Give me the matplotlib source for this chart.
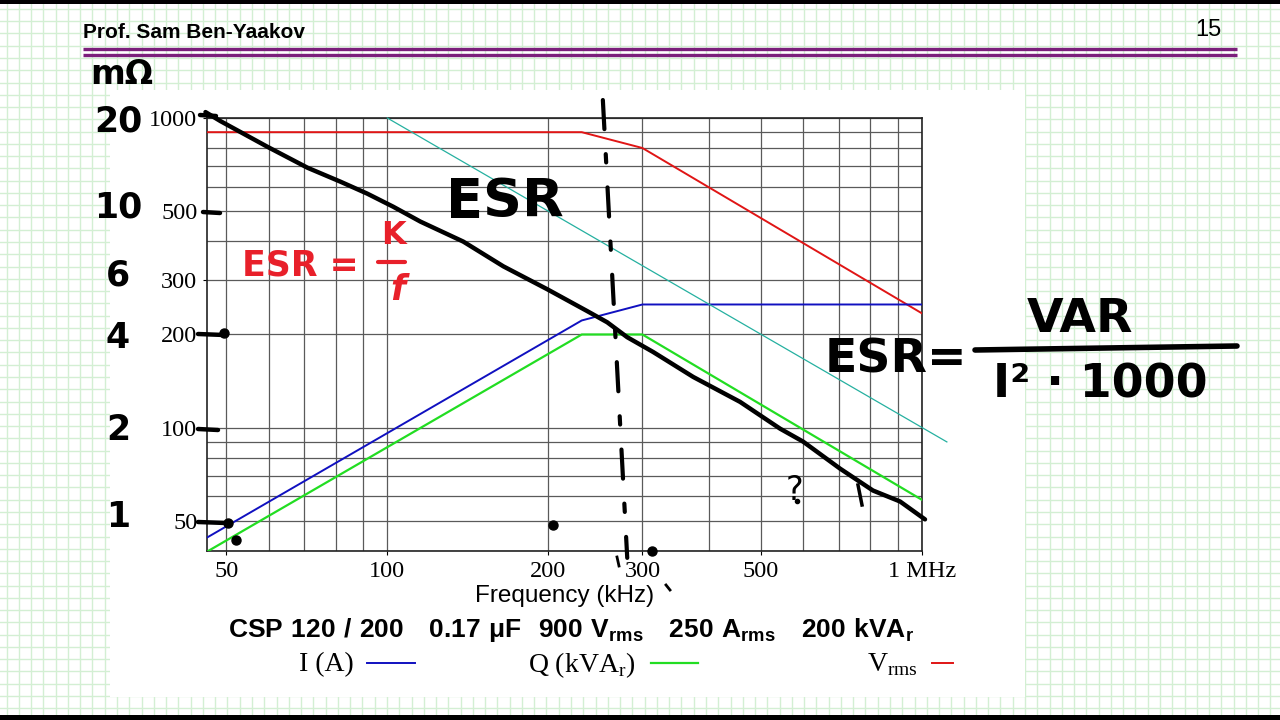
import matplotlib
matplotlib.use("Agg")
import matplotlib.pyplot as plt
from matplotlib.lines import Line2D
from matplotlib.patches import Rectangle
import numpy as np

# ---------------- data ----------------
freq_I = [46, 231, 300, 1000]
current_A = [44.2, 222, 250, 250]

freq_Q = [46, 231, 300, 1000]
q_kvar = [39.8, 200, 200, 58.5]

freq_V = [46, 231, 300, 1000]
v_rms = [900, 900, 800, 234]

freq_ref = [100, 1113]
ref_line = [1000, 90]

# hand-drawn ESR trace (kHz, value on chart scale)
esr_freq = [45.7, 48.7, 59.7, 70.9, 81.7, 91.7, 102.6, 115.3, 138.7, 164.8, 199.1,
            236.5, 257.8, 281, 314.2, 373.3, 456.8, 542.8, 599.3, 702.6, 809.7, 909.8, 1013]
esr_val = [1045, 978, 807, 691, 623, 570, 517, 463, 399, 332, 280,
           238, 219, 196, 175.6, 145.9, 121.2, 99.3, 90.2, 73.8, 62.7, 57.8, 50.6]

# hand-drawn dashed vertical marker
mark_freq = [253, 281]
mark_val = [1143, 38]

# hand dots
dot_freq = [50.4, 52.2, 49.6, 204, 313, 584]
dot_val = [49.1, 43.4, 202, 48.4, 39.9, 57.8]

x_ticks = [50, 100, 200, 300, 500, 1000]
x_tick_labels = ["50", "100", "200", "300", "500", "1 MHz"]
y_ticks = [50, 100, 200, 300, 500, 1000]
y_tick_labels = ["50", "100", "200", "300", "500", "1000"]

hand_scale = ["20", "10", "6", "4", "2", "1"]

# ---------------- figure ----------------
plt.rcParams['mathtext.fontset'] = 'custom'
plt.rcParams['mathtext.rm'] = 'Liberation Serif'
plt.rcParams['mathtext.bf'] = 'Liberation Sans:bold'
plt.rcParams['mathtext.sf'] = 'Liberation Sans'

W, H = 1280, 720
fig = plt.figure(figsize=(12.8, 7.2), dpi=100)
fig.patch.set_facecolor('white')

# background (graph paper slide)
bg = fig.add_axes([0, 0, 1, 1], zorder=0)
bg.set_xlim(0, W)
bg.set_ylim(H, 0)
bg.axis('off')
gc = '#d3efd3'
for gx in np.arange(6.6, W, 12.27):
    bg.axvline(gx, color=gc, lw=1.0)
for gy in np.arange(8.9, H, 12.27):
    bg.axhline(gy, color=gc, lw=1.0)
bg.add_patch(Rectangle((110, 90), 915, 607, facecolor='white', edgecolor='none', zorder=2))
bg.add_patch(Rectangle((0, 0), W, 4, facecolor='black', edgecolor='none', zorder=3))
bg.add_patch(Rectangle((0, 715), W, 5, facecolor='black', edgecolor='none', zorder=3))
bg.plot([83, 1237], [49, 49], color='#7b1f7b', lw=2.4, zorder=3, solid_capstyle='butt')
bg.plot([83, 1237], [54.5, 54.5], color='#7b1f7b', lw=2.4, zorder=3, solid_capstyle='butt')
bg.text(83, 32, "Prof. Sam Ben-Yaakov", fontsize=15, fontweight='bold',
        family='Liberation Sans', ha='left', va='center', zorder=3)
bg.text(1208, 30, "15", fontsize=17, family='Liberation Sans', ha='center',
        va='center', zorder=3)

# ---------------- main chart ----------------
ax = fig.add_axes([207 / W, 1 - 551 / H, (922 - 207) / W, (551 - 118) / H], zorder=2)
ax.set_facecolor('white')
ax.set_xscale('log')
ax.set_yscale('log')
ax.set_xlim(46, 1000)
ax.set_ylim(40, 1000)

minor = [m * 10 ** e for e in (1, 2) for m in range(2, 10)]
ax.xaxis.set_major_locator(matplotlib.ticker.FixedLocator(x_ticks))
ax.xaxis.set_minor_locator(matplotlib.ticker.FixedLocator(minor))
ax.yaxis.set_major_locator(matplotlib.ticker.FixedLocator(y_ticks))
ax.yaxis.set_minor_locator(matplotlib.ticker.FixedLocator(minor))
ax.xaxis.set_major_formatter(matplotlib.ticker.FixedFormatter(x_tick_labels))
ax.yaxis.set_major_formatter(matplotlib.ticker.FixedFormatter(y_tick_labels))
ax.xaxis.set_minor_formatter(matplotlib.ticker.NullFormatter())
ax.yaxis.set_minor_formatter(matplotlib.ticker.NullFormatter())
ax.grid(True, which='both', color='#5a5a5a', lw=0.9)
ax.tick_params(which='minor', length=0)
ax.tick_params(which='major', length=3, width=0.8, direction='out', pad=4,
               labelsize=17.5)
for lab in ax.get_xticklabels() + ax.get_yticklabels():
    lab.set_family('Liberation Serif')
for sp in ax.spines.values():
    sp.set_color('#222222')
    sp.set_linewidth(1.2)

ax.plot(freq_V, v_rms, color='#e01515', lw=1.4, zorder=3)
ax.plot(freq_I, current_A, color='#1010c0', lw=1.4, zorder=3)
ax.plot(freq_Q, q_kvar, color='#22dd22', lw=1.6, zorder=3)
ax.plot(freq_ref, ref_line, color='#25b0a0', lw=0.9, zorder=3, clip_on=False)

# hand-drawn overlays in data coords
ax.plot(esr_freq, esr_val, color='black', lw=3.2, zorder=5, clip_on=False,
        solid_capstyle='round', solid_joinstyle='round')
ax.plot(mark_freq, mark_val, color='black', lw=3.0, zorder=5, clip_on=False,
        linestyle=(0, (7, 6, 2, 6)), dash_capstyle='round')
ax.plot(dot_freq[:5], dot_val[:5], 'o', color='black', ms=6.5, zorder=6, clip_on=False)
ax.plot(dot_freq[5:], dot_val[5:], 'o', color='black', ms=3, zorder=6, clip_on=False)

fig.text(565 / W, 1 - 596 / H, "Frequency (kHz)", family='Liberation Sans',
         fontsize=17.5, ha='center', va='center')
fig.text(571 / W, 1 - 630 / H,
         r"$\mathbf{CSP\ 120\ /\ 200\ \ \ 0.17\ \mu F\ \ 900\ V_{rms}\ \ \ 250\ A_{rms}\ \ \ 200\ kVA_{r}}$",
         fontsize=19, ha='center', va='center')

# legend row
fig.text(326 / W, 1 - 665 / H, "I (A)", family='Liberation Serif', fontsize=20,
         ha='center', va='center')
fig.text(582 / W, 1 - 665 / H, r"Q (kVA$_\mathrm{r}$)", family='Liberation Serif',
         fontsize=20, ha='center', va='center')
fig.text(892 / W, 1 - 665 / H, r"V$_\mathrm{rms}$", family='Liberation Serif',
         fontsize=20, ha='center', va='center')
fig.add_artist(Line2D([367 / W, 415 / W], [1 - 663 / H] * 2, color='#1010c0', lw=1.4))
fig.add_artist(Line2D([651 / W, 698 / W], [1 - 663 / H] * 2, color='#22dd22', lw=1.6))
fig.add_artist(Line2D([932 / W, 953 / W], [1 - 663 / H] * 2, color='#e01515', lw=1.4))

# ---------------- handwritten overlay (pixel coords) ----------------
ov = fig.add_axes([0, 0, 1, 1], zorder=4)
ov.set_xlim(0, W)
ov.set_ylim(H, 0)
ov.axis('off')
ov.patch.set_alpha(0)
hw = dict(family='DejaVu Sans', fontweight='bold', color='black', ha='center', va='center')

ov.text(122, 74, "mΩ", fontsize=24, **hw)
for s, yy in zip(hand_scale, [122, 208, 275, 338, 430, 517]):
    ov.text(118, yy, s, fontsize=25, **hw)
# ticks strokes on y axis
for (x0, x1, yy) in [(200, 216, 115), (203, 220, 212), (198, 224, 334), (198, 218, 429), (198, 226, 522)]:
    ov.plot([x0, x1], [yy, yy + 1], color='black', lw=3.2, solid_capstyle='round')

ov.text(505, 202, "ESR", fontsize=39, **hw)
red = '#e8202a'
ov.text(300, 266, "ESR =", fontsize=25, family='DejaVu Sans', fontweight='bold',
        color=red, ha='center', va='center')
ov.text(393, 236, "K", fontsize=23, family='DejaVu Sans', fontweight='bold',
        color=red, ha='center', va='center')
ov.plot([378, 405], [262, 262], color=red, lw=3, solid_capstyle='round')
ov.text(398, 290, "f", fontsize=25, family='DejaVu Sans', fontweight='bold',
        color=red, ha='center', va='center', style='italic')

ov.text(896, 360, "ESR=", fontsize=34, **hw)
ov.text(1080, 320, "VAR", fontsize=34, **hw)
ov.plot([975, 1237], [350, 346], color='black', lw=4, solid_capstyle='round')
ov.text(1100, 385, "I² · 1000", fontsize=33, **hw)

ov.text(795, 490, "?", fontsize=24, family='DejaVu Sans', color='black',
        ha='center', va='center')
ov.plot([858, 862], [485, 505], color='black', lw=2.5)
ov.plot([617, 619], [557, 566], color='black', lw=2)
ov.plot([666, 670], [585, 590], color='black', lw=2)

fig.savefig("out.png", dpi=100)
